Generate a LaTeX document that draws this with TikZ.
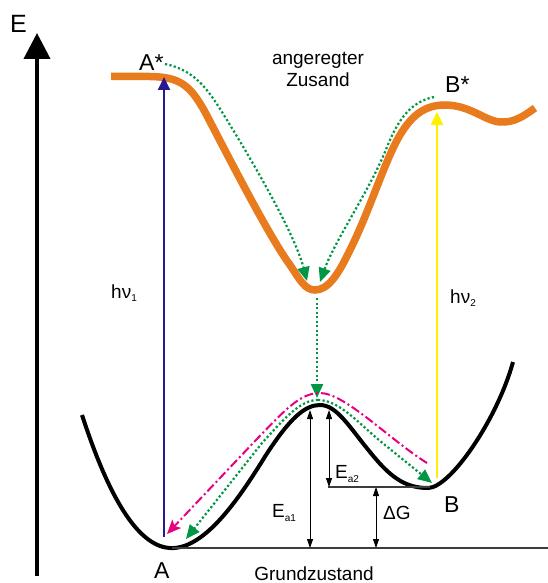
\documentclass[tikz,border=0pt]{standalone}
\usepackage{fontspec}
\setmainfont{Liberation Sans}
\usetikzlibrary{arrows.meta}
\definecolor{orng}{RGB}{232,123,30}
\definecolor{grn}{RGB}{0,150,70}
\definecolor{pnk}{RGB}{228,0,126}
\definecolor{navyb}{RGB}{40,25,140}
\definecolor{yel}{RGB}{255,240,0}
\definecolor{dgray}{RGB}{60,60,60}
\begin{document}
\begin{tikzpicture}[x=1pt,y=-1pt,
  lbl/.style={font=\fontsize{19}{21}\selectfont, inner sep=0pt, anchor=base west},
  lblc/.style={font=\fontsize{19}{21}\selectfont, inner sep=0pt, anchor=base},
  big/.style={font=\fontsize{23}{25}\selectfont, inner sep=0pt, anchor=base west},
  gdot/.style={grn, line width=2.2pt, dash pattern=on 2.2pt off 2.3pt, -{Triangle[length=14pt,width=12pt]}},
  pdash/.style={pnk, line width=2pt, dash pattern=on 9pt off 3pt on 2pt off 3pt, -{Stealth[length=14pt,width=12pt,inset=3pt]}},
  dimarrow/.style={black, line width=0.8pt, {Triangle[length=9pt,width=6pt]}-{Triangle[length=9pt,width=6pt]}},
  pes/.style={line width=4pt, black}]
\useasboundingbox (0,0) rectangle (548,583);

% energy axis
\coordinate (axB) at (37,576);
\coordinate (axT) at (37,33);
\draw[line width=4pt, black, -{Triangle[length=26pt,width=26pt]}] (axB) -- (axT);
\node[big, font=\fontsize{25}{27}\selectfont] (E) at (10,33) {E};

% excited state curve (orange)
\draw[orng, line width=7.5pt, line cap=butt]
  (111,76.5) -- (150,76.5)
  .. controls (180,77) and (190,85) .. (205,112)
  .. controls (225,150) and (268,235) .. (290,265)
  .. controls (300,280) and (305,290) .. (315,290)
  .. controls (328,290) and (338,275) .. (350,250)
  .. controls (370,210) and (385,160) .. (400,135)
  .. controls (412,115) and (425,105) .. (445,105)
  .. controls (470,105) and (485,121) .. (500,122)
  .. controls (515,123) and (525,115) .. (535,108);

% ground state curve (black)
\draw[pes]
  (82,415) .. controls (100,470) and (130,546) .. (170,548)
  .. controls (205,550) and (240,497) .. (266,455)
  .. controls (290,418) and (305,405) .. (320,405)
  .. controls (337,405) and (350,428) .. (370,452)
  .. controls (390,477) and (405,488) .. (428,488)
  .. controls (450,488) and (497,420) .. (513,362);

% reference lines
\coordinate (g0) at (172,548);
\coordinate (g1) at (548,548);
\coordinate (b0) at (328,487);
\coordinate (b1) at (430,487);
\draw[dgray, line width=1.3pt] (g0) -- (g1);
\draw[dgray, line width=1.1pt] (b0) -- (b1);

% dimension arrows
\coordinate (ea1b) at (310,548);
\coordinate (ea1t) at (310,410);
\coordinate (ea2t) at (329,410);
\coordinate (ea2b) at (329,487);
\coordinate (dgt) at (376,487);
\coordinate (dgb) at (376,548);
\draw[dimarrow] (ea1b) -- (ea1t);
\draw[dimarrow] (ea2t) -- (ea2b);
\draw[dimarrow] (dgt) -- (dgb);

% photon arrows
\coordinate (blueS) at (164,537);
\coordinate (blueE) at (164,77);
\draw[navyb, line width=2pt, -{Triangle[length=13pt,width=12pt]}] (blueS) -- (blueE);
\coordinate (yelS) at (437,478);
\coordinate (yelE) at (437,112);
\draw[yel, line width=2.5pt, -{Triangle[length=13pt,width=12pt]}] (yelS) -- (yelE);

% green relaxation paths
\coordinate (gA) at (165,64);
\coordinate (gAe) at (307,281);
\draw[gdot] (gA) .. controls (195,70) and (208,90) .. (222,112)
  .. controls (255,165) and (295,235) .. (gAe);
\coordinate (gB) at (434,97);
\coordinate (gBe) at (320,282);
\draw[gdot] (gB) .. controls (410,102) and (398,120) .. (387,147)
  .. controls (370,190) and (335,240) .. (gBe);
\coordinate (gV) at (317,298);
\coordinate (gVe) at (317,398);
\draw[gdot] (gV) -- (gVe);
\coordinate (gP) at (318,400);
\coordinate (gR) at (432,483);
\coordinate (gL) at (186,539);
\draw[gdot] (gP) .. controls (340,400) and (360,425) .. (385,445) -- (gR);
\draw[gdot] (gP) .. controls (300,400) and (285,418) .. (262,443) -- (gL);

% pink dash-dot path
\coordinate (pR) at (427,463);
\coordinate (pL) at (167,534);
\draw[pdash] (pR) .. controls (390,440) and (345,393) .. (320,393)
  .. controls (300,393) and (285,410) .. (255,441) -- (pL);

% labels
\node[big] (Astar) at (139,71) {A*};
\node[big] (Bstar) at (445,93) {B*};
\node[big] (A) at (154,578) {A};
\node[big] (B) at (444,512) {B};
\node[lblc] (ang) at (318,65) {angeregter};
\node[lblc] (zus) at (318,87) {Zusand};
\node[lblc] (grund) at (314,580) {Grundzustand};
\node[lbl] (hv1) at (111,298) {hν\raisebox{-3pt}{\fontsize{10}{10}\selectfont 1}};
\node[lbl] (hv2) at (450,303) {hν\raisebox{-3pt}{\fontsize{10}{10}\selectfont 2}};
\node[lbl] (Ea1) at (272,517) {E\raisebox{-4pt}{\fontsize{10}{10}\selectfont a1}};
\node[lbl] (Ea2) at (335,478) {E\raisebox{-4pt}{\fontsize{10}{10}\selectfont a2}};
\node[lbl] (dG) at (383,519) {ΔG};
\end{tikzpicture}
\end{document}
